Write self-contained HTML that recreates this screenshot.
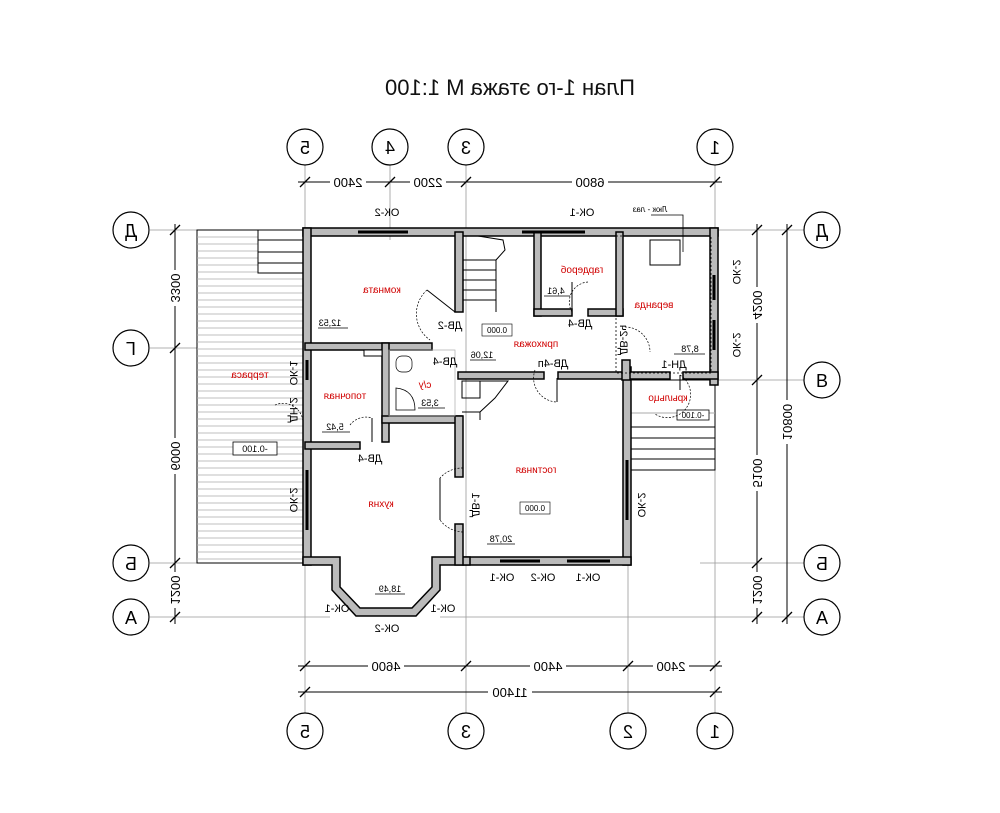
<!DOCTYPE html>
<html><head><meta charset="utf-8"><style>
html,body{margin:0;padding:0;background:#fff;}
svg{display:block;font-family:"Liberation Sans","Noto Sans CJK SC",sans-serif;}
.m{font-size:11px;fill:#000}
.r{font-size:10px;fill:#d00000}
</style></head><body>
<svg width="1000" height="813" viewBox="0 0 1000 813" xmlns="http://www.w3.org/2000/svg">
<rect width="1000" height="813" fill="#fff"/>
<!-- title -->
<text transform="translate(510,95) scale(-1,1)" text-anchor="middle" font-size="22" fill="#111">План 1-го этажа   М 1:100</text>

<!-- grid lines thin -->
<g stroke="#999" stroke-width="0.8" fill="none">
<line x1="305" y1="165" x2="305" y2="713"/>
<line x1="390" y1="165" x2="390" y2="240"/>
<line x1="466" y1="165" x2="466" y2="713"/>
<line x1="628" y1="560" x2="628" y2="713"/>
<line x1="715" y1="165" x2="715" y2="713"/>
<line x1="150" y1="230" x2="200" y2="230"/>
<line x1="150" y1="348" x2="200" y2="348"/>
<line x1="150" y1="563" x2="200" y2="563"/>
<line x1="150" y1="617" x2="330" y2="617"/>
<line x1="710" y1="380" x2="805" y2="380"/>
<line x1="715" y1="230" x2="805" y2="230"/>
<line x1="700" y1="563" x2="805" y2="563"/>
<line x1="440" y1="617" x2="805" y2="617"/>
</g>
<!-- dimension lines -->
<g stroke="#000" stroke-width="1" fill="none">
<line x1="298" y1="182" x2="722" y2="182"/>
<line x1="298" y1="666" x2="722" y2="666"/>
<line x1="298" y1="692" x2="722" y2="692"/>
<line x1="175" y1="224" x2="175" y2="624"/>
<line x1="757" y1="224" x2="757" y2="624"/>
<line x1="787" y1="224" x2="787" y2="624"/>
<g stroke-width="1.3">
<path d="M300 187l10-10M385 187l10-10M461 187l10-10M710 187l10-10"/>
<path d="M300 671l10-10M461 671l10-10M623 671l10-10M710 671l10-10"/>
<path d="M300 697l10-10M710 697l10-10"/>
<path d="M170 235l10-10M170 353l10-10M170 568l10-10M170 622l10-10"/>
<path d="M752 235l10-10M752 385l10-10M752 568l10-10M752 622l10-10"/>
<path d="M782 235l10-10M782 622l10-10"/>
</g>
</g>
<g font-size="13" fill="#000" text-anchor="middle">
<rect x="330" y="175" width="36" height="14" fill="#fff"/><text transform="translate(348,187) scale(-1,1)">2400</text>
<rect x="410" y="175" width="36" height="14" fill="#fff"/><text transform="translate(428,187) scale(-1,1)">2200</text>
<rect x="572" y="175" width="36" height="14" fill="#fff"/><text transform="translate(590,187) scale(-1,1)">6800</text>
<rect x="368" y="659" width="36" height="14" fill="#fff"/><text transform="translate(386,671) scale(-1,1)">4600</text>
<rect x="530" y="659" width="36" height="14" fill="#fff"/><text transform="translate(548,671) scale(-1,1)">4400</text>
<rect x="653" y="659" width="36" height="14" fill="#fff"/><text transform="translate(671,671) scale(-1,1)">2400</text>
<rect x="488" y="685" width="44" height="14" fill="#fff"/><text transform="translate(510,697) scale(-1,1)">11400</text>
<rect x="168" y="270" width="14" height="36" fill="#fff"/><text transform="translate(171,288) rotate(90) scale(-1,1)">3300</text>
<rect x="168" y="438" width="14" height="36" fill="#fff"/><text transform="translate(171,456) rotate(90) scale(-1,1)">6000</text>
<rect x="168" y="572" width="14" height="36" fill="#fff"/><text transform="translate(171,590) rotate(90) scale(-1,1)">1200</text>
<rect x="750" y="287" width="14" height="36" fill="#fff"/><text transform="translate(753,305) rotate(90) scale(-1,1)">4200</text>
<rect x="750" y="455" width="14" height="36" fill="#fff"/><text transform="translate(753,473) rotate(90) scale(-1,1)">5100</text>
<rect x="750" y="572" width="14" height="36" fill="#fff"/><text transform="translate(753,590) rotate(90) scale(-1,1)">1200</text>
<rect x="780" y="400" width="14" height="44" fill="#fff"/><text transform="translate(783,422) rotate(90) scale(-1,1)">10800</text>
</g>

<!-- axis circles -->
<g fill="#fff" stroke="#000" stroke-width="1.2">
<circle cx="305" cy="147" r="18"/><circle cx="390" cy="147" r="18"/><circle cx="466" cy="147" r="18"/><circle cx="715" cy="147" r="18"/>
<circle cx="305" cy="731" r="18"/><circle cx="466" cy="731" r="18"/><circle cx="628" cy="731" r="18"/><circle cx="715" cy="731" r="18"/>
<circle cx="131" cy="230" r="18"/><circle cx="131" cy="348" r="18"/><circle cx="131" cy="563" r="18"/><circle cx="131" cy="617" r="18"/>
<circle cx="822" cy="230" r="18"/><circle cx="822" cy="380" r="18"/><circle cx="822" cy="563" r="18"/><circle cx="822" cy="617" r="18"/>
</g>
<g font-size="18" fill="#000" text-anchor="middle">
<text transform="translate(305,154) scale(-1,1)">5</text><text transform="translate(390,154) scale(-1,1)">4</text><text transform="translate(466,154) scale(-1,1)">3</text><text transform="translate(715,154) scale(-1,1)">1</text>
<text transform="translate(305,738) scale(-1,1)">5</text><text transform="translate(466,738) scale(-1,1)">3</text><text transform="translate(628,738) scale(-1,1)">2</text><text transform="translate(715,738) scale(-1,1)">1</text>
<text transform="translate(131,237) scale(-1,1)">Д</text><text transform="translate(131,355) scale(-1,1)">Г</text><text transform="translate(131,570) scale(-1,1)">Б</text><text x="131" y="624">А</text>
<text transform="translate(822,237) scale(-1,1)">Д</text><text x="822" y="387">В</text><text transform="translate(822,570) scale(-1,1)">Б</text><text x="822" y="624">А</text>
</g>

<!-- terrace -->
<rect x="197" y="230" width="106" height="333" fill="#fff" stroke="#000" stroke-width="1"/>
<g stroke="#aaa" stroke-width="0.7">
<path d="M197 237H303M197 244H303M197 251H303M197 258H303M197 265H303M197 272H303M197 279H303M197 286H303M197 293H303M197 300H303M197 307H303M197 314H303M197 321H303M197 328H303M197 335H303M197 342H303M197 349H303M197 356H303M197 363H303M197 370H303M197 377H303M197 384H303M197 391H303M197 398H303M197 405H303M197 412H303M197 419H303M197 426H303M197 433H303M197 440H303M197 447H303M197 454H303M197 461H303M197 468H303M197 475H303M197 482H303M197 489H303M197 496H303M197 503H303M197 510H303M197 517H303M197 524H303M197 531H303M197 538H303M197 545H303M197 552H303M197 559H303"/>
</g>
<rect x="258" y="230" width="45" height="43" fill="#fff" stroke="#000"/>
<path d="M258 240H303M258 252H303M258 263H303" stroke="#000"/>
<rect x="233" y="442" width="44" height="13" fill="#fff" stroke="#000" stroke-width="0.8"/>
<text transform="translate(255,452) scale(-1,1)" text-anchor="middle" font-size="9">-0.100</text>

<!-- porch stairs right -->
<rect x="628" y="380" width="87" height="90" fill="#fff" stroke="#000"/>
<path d="M628 427H715M628 438H715M628 449H715M628 459H715" stroke="#000"/>
<path d="M628 413H715" stroke="#aaa"/>
<rect x="677" y="410" width="32" height="10" fill="#fff" stroke="#000" stroke-width="0.8"/>
<text transform="translate(693,418) scale(-1,1)" text-anchor="middle" font-size="8">-0.100</text>

<!-- walls -->
<g fill="#bbb" stroke="#000" stroke-width="1.5" stroke-linejoin="miter">
<!-- top -->
<rect x="303" y="228" width="415" height="8"/>
<!-- left -->
<rect x="303" y="228" width="8" height="337"/>
<!-- right upper -->
<rect x="710" y="228" width="8" height="157"/>
<!-- right lower -->
<rect x="623" y="367" width="8" height="198"/>
<!-- bottom living -->
<rect x="463" y="557" width="168" height="8"/>
<!-- kitchen bay -->
<path d="M303 557H340V587L360 608H412L432 587V557H470V565H440V590L416 616H356L332 590V565H303Z"/>
<!-- stair wall / hall -->
<rect x="455" y="232" width="8" height="80"/>
<rect x="534" y="232" width="7" height="84"/>
<rect x="534" y="309" width="38" height="7"/>
<rect x="588" y="309" width="35" height="7"/>
<rect x="616" y="232" width="7" height="84"/>
<rect x="305" y="343" width="127" height="7"/>
<rect x="382" y="343" width="7" height="99"/>
<rect x="382" y="416" width="80" height="7"/>
<rect x="455" y="416" width="8" height="61"/>
<rect x="455" y="524" width="8" height="41"/>
<rect x="305" y="442" width="55" height="7"/>
<rect x="458" y="372" width="86" height="7"/>
<rect x="558" y="372" width="72" height="7"/>
<rect x="623" y="372" width="47" height="7"/>
<rect x="683" y="372" width="35" height="7"/>
<rect x="622" y="360" width="8" height="20"/>
</g>
<!-- window segments -->
<g stroke="#000" stroke-width="3">
<path d="M358 232H408M522 232H585M307 360V380M307 470V530M567 561H610M500 561H540M627 460V520M714 275V300M714 320V350"/>
</g>
<!-- veranda dashed -->
<rect x="616" y="236" width="95" height="137" fill="none" stroke="#000" stroke-dasharray="2,2" stroke-width="0.8"/>
<rect x="650" y="240" width="30" height="25" fill="none" stroke="#000" stroke-width="1"/>
<path d="M651 215H683V252" stroke="#000" fill="none" stroke-width="0.8"/>
<text transform="translate(650,212) scale(-1,1)" text-anchor="middle" font-size="8">Люк - лаз</text>

<!-- stairs inside -->
<g stroke="#000" fill="none" stroke-width="1">
<path d="M463 260H496V312M463 270H496M463 280H496M463 290H496M463 300H496M496 260L505 250 503 240 478 236"/>
<rect x="462" y="381" width="18" height="17"/>
<path d="M480 381H508L495 398 480 412V420M462 412H480"/>
</g>
<!-- bathroom -->
<rect x="389" y="350" width="66" height="66" fill="none" stroke="#aaa" stroke-width="0.7"/>
<rect x="364" y="350" width="18" height="6" fill="#fff" stroke="#000"/>
<path d="M396 388Q415 390 415 410H396Z" fill="none" stroke="#000" stroke-width="0.8"/>
<rect x="396" y="356" width="16" height="16" rx="6" fill="none" stroke="#000" stroke-width="0.7"/>

<!-- door arcs -->
<g stroke="#000" fill="none" stroke-width="0.7" stroke-dasharray="2,1.5">
<path d="M427 290A32 32 0 0 0 430 340"/>
<path d="M588 282A20 20 0 0 0 572 312"/>
<path d="M625 327A25 25 0 0 1 650 352"/>
<path d="M535 370A24 24 0 0 0 557 402"/>
<path d="M463 468A30 30 0 0 0 440 478M463 532A30 30 0 0 1 440 520"/>
<path d="M350 425A20 20 0 0 1 372 418"/>
<path d="M275 405A20 20 0 0 1 303 425"/>
<path d="M680 375A20 20 0 0 1 655 414"/>
</g>
<g stroke="#000" stroke-width="1"><path d="M427 290L455 312M572 282V312M557 378V402M440 478V520M372 418V442M680 375V390"/></g>

<!-- labels black -->
<g class="m" text-anchor="middle">
<text transform="translate(387,216) scale(-1,1)">ОК-2</text>
<text transform="translate(582,216) scale(-1,1)">ОК-1</text>
<text transform="translate(450,329) scale(-1,1)">ДВ-2</text>
<text transform="translate(580,327) scale(-1,1)">ДВ-4</text>
<text transform="translate(445,365) scale(-1,1)">ДВ-4</text>
<text transform="translate(553,367) scale(-1,1)">ДВ-4п</text>
<text transform="translate(674,368) scale(-1,1)">ДН-1</text>
<text transform="translate(370,462) scale(-1,1)">ДВ-4</text>
<text transform="translate(337,612) scale(-1,1)">ОК-1</text>
<text transform="translate(443,612) scale(-1,1)">ОК-1</text>
<text transform="translate(387,632) scale(-1,1)">ОК-2</text>
<text transform="translate(502,581) scale(-1,1)">ОК-1</text>
<text transform="translate(543,581) scale(-1,1)">ОК-2</text>
<text transform="translate(588,581) scale(-1,1)">ОК-1</text>
<text transform="translate(290,373) rotate(90) scale(-1,1)">ОК-1</text>
<text transform="translate(290,500) rotate(90) scale(-1,1)">ОК-2</text>
<text transform="translate(638,505) rotate(90) scale(-1,1)">ОК-2</text>
<text transform="translate(733,272) rotate(90) scale(-1,1)">ОК-2</text>
<text transform="translate(733,345) rotate(90) scale(-1,1)">ОК-2</text>
<text transform="translate(290,410) rotate(90) scale(-1,1)">ДН-2</text>
<text transform="translate(472,505) rotate(90) scale(-1,1)">ДВ-1</text>
<text transform="translate(620,340) rotate(90) scale(-1,1)">ДВ-2ч</text>
</g>
<g font-size="9" text-anchor="middle" fill="#000">
<text transform="translate(330,326) scale(-1,1)">12,53</text>
<text transform="translate(482,358) scale(-1,1)">12,06</text>
<text transform="translate(556,294) scale(-1,1)">4,61</text>
<text transform="translate(690,352) scale(-1,1)">8,78</text>
<text transform="translate(430,406) scale(-1,1)">3,53</text>
<text transform="translate(335,430) scale(-1,1)">5,42</text>
<text transform="translate(501,542) scale(-1,1)">20,78</text>
<text transform="translate(390,592) scale(-1,1)">18,49</text>
</g>
<g stroke="#000" stroke-width="0.8"><path d="M318 328H348M470 360H496M544 296H570M674 354H705M418 408H445M322 432H350M487 544H515M375 594H405"/></g>
<rect x="482" y="324" width="30" height="12" fill="#fff" stroke="#000" stroke-width="0.6"/>
<text transform="translate(497,333) scale(-1,1)" text-anchor="middle" font-size="8">0.000</text>
<rect x="520" y="502" width="30" height="12" fill="#fff" stroke="#000" stroke-width="0.6"/>
<text transform="translate(535,511) scale(-1,1)" text-anchor="middle" font-size="8">0.000</text>

<!-- red room names -->
<g class="r" text-anchor="middle">
<text transform="translate(382,293) scale(-1,1)">комната</text>
<text transform="translate(582,273) scale(-1,1)">гардероб</text>
<text transform="translate(654,308) scale(-1,1)">веранда</text>
<text transform="translate(536,347) scale(-1,1)">прихожая</text>
<text transform="translate(250,378) scale(-1,1)">терраса</text>
<text transform="translate(345,399) scale(-1,1)">топочная</text>
<text transform="translate(425,388) scale(-1,1)">с/у</text>
<text transform="translate(668,401) scale(-1,1)">крыльцо</text>
<text transform="translate(536,473) scale(-1,1)">гостиная</text>
<text transform="translate(381,507) scale(-1,1)">кухня</text>
</g>
</svg>
</body></html>
